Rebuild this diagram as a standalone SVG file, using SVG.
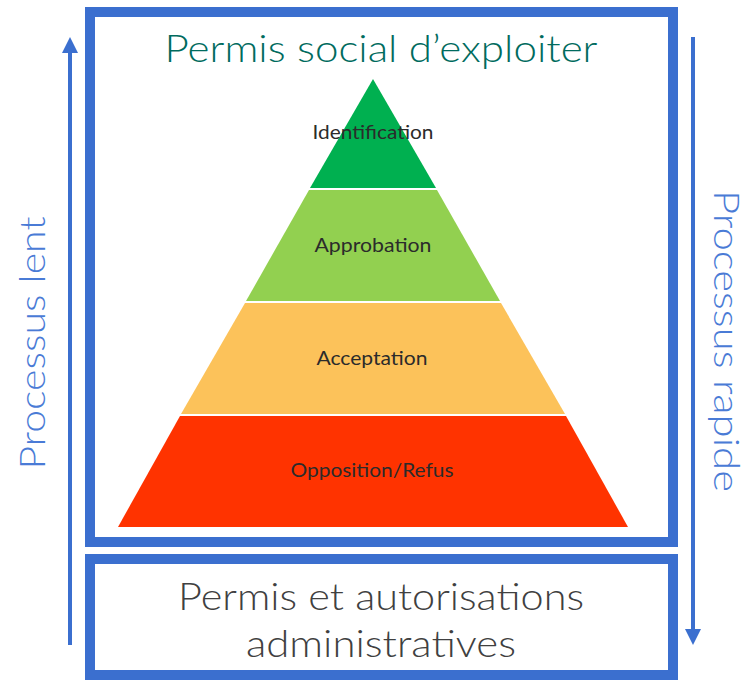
<svg xmlns="http://www.w3.org/2000/svg" width="749" height="680" viewBox="0 0 749 680">
<style>
.box{fill:none;stroke:#3B6FCF;stroke-width:10}
.arr{stroke:#3B6FCF;stroke-width:4;fill:none}
.tier{font-family:"Lato","Noto Sans",sans-serif;font-size:19px;fill:#2b2b2b;text-anchor:middle}
.big{font-family:"Lato","Noto Sans",sans-serif;font-weight:300;font-size:38px;text-anchor:middle}
.side{font-family:"Lato","Noto Sans",sans-serif;font-weight:300;font-size:36px;fill:#4A7BD6;text-anchor:middle}
</style>
<defs>
<marker id="ah" viewBox="0 0 10 10" refX="5" refY="5" markerWidth="4" markerHeight="4" orient="auto-start-reverse" markerUnits="strokeWidth">
<path d="M0,0 L10,5 L0,10 z" fill="#3B6FCF"/>
</marker>
</defs>
<rect width="749" height="680" fill="#ffffff"/>
<g id="connectors">
<line class="arr" x1="70" y1="645" x2="70" y2="45" marker-end="url(#ah)"/>
<line class="arr" x1="693" y1="37" x2="693" y2="637" marker-end="url(#ah)"/>
</g>
<g id="social-box">
<rect class="box" x="90" y="12" width="583" height="530"/>
<text class="big" x="381" y="62" fill="#006B5E" textLength="433" lengthAdjust="spacingAndGlyphs">Permis social d’exploiter</text>
</g>
<g id="admin-box">
<rect class="box" x="90" y="559" width="583" height="116"/>
<text class="big" x="381" y="610" fill="#404040" textLength="406" lengthAdjust="spacingAndGlyphs">Permis et autorisations</text>
<text class="big" x="381" y="657" fill="#404040" textLength="270" lengthAdjust="spacingAndGlyphs">administratives</text>
</g>
<g id="tier-identification">
<polygon points="373,79 436,188 310,188" fill="#00B050"/>
<text class="tier" x="373" y="139" textLength="121" lengthAdjust="spacingAndGlyphs">Identification</text>
</g>
<g id="tier-approbation">
<polygon points="309,190 437,190 500,301 246,301" fill="#92D050"/>
<text class="tier" x="373" y="252" textLength="117" lengthAdjust="spacingAndGlyphs">Approbation</text>
</g>
<g id="tier-acceptation">
<polygon points="245,303 501,303 565,414 181,414" fill="#FCC25A"/>
<text class="tier" x="372" y="365" textLength="111" lengthAdjust="spacingAndGlyphs">Acceptation</text>
</g>
<g id="tier-opposition">
<polygon points="180,416 566,416 628,527 118,527" fill="#FF3300"/>
<text class="tier" x="372" y="477" textLength="163" lengthAdjust="spacingAndGlyphs">Opposition/Refus</text>
</g>
<g id="label-lent">
<text class="side" transform="translate(45,343) rotate(-90)" textLength="253" lengthAdjust="spacingAndGlyphs">Processus lent</text>
</g>
<g id="label-rapide">
<text class="side" transform="translate(714,341) rotate(90)" textLength="302" lengthAdjust="spacingAndGlyphs">Processus rapide</text>
</g>
</svg>
